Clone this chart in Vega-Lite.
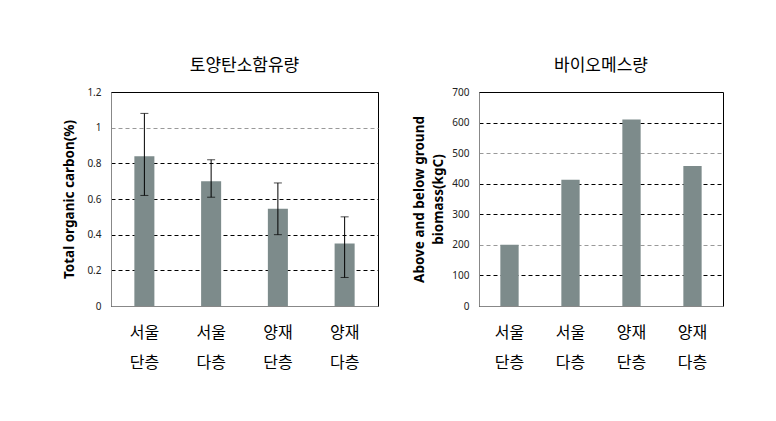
{
  "$schema": "https://vega.github.io/schema/vega-lite/v6.json",
  "background": "white",
  "padding": {"left": 62, "top": 56, "right": 40, "bottom": 20},
  "datasets": {
    "soc": [
      {"site": "서울 단층", "value": 0.84, "low": 0.62, "high": 1.08},
      {"site": "서울 다층", "value": 0.70, "low": 0.61, "high": 0.82},
      {"site": "양재 단층", "value": 0.545, "low": 0.40, "high": 0.69},
      {"site": "양재 다층", "value": 0.35, "low": 0.16, "high": 0.50}
    ],
    "bio": [
      {"site": "서울 단층", "value": 200},
      {"site": "서울 다층", "value": 413},
      {"site": "양재 단층", "value": 610},
      {"site": "양재 다층", "value": 458}
    ]
  },
  "config": {
    "view": {"stroke": "#000", "strokeWidth": 1},
    "title": {"font": "Noto Sans CJK KR", "fontSize": 17, "fontWeight": "normal", "color": "#000", "offset": 12},
    "axis": {
      "labelFont": "Noto Sans", "labelFontSize": 10, "labelColor": "#222",
      "titleFont": "Noto Sans", "titleFontSize": 13.5, "titleFontWeight": "bold", "titleColor": "#000",
      "domainColor": "#888", "ticks": false
    },
    "axisX": {
      "labelFont": "Noto Sans CJK KR", "labelFontSize": 16, "labelAngle": 0, "labelColor": "#000",
      "labelExpr": "split(datum.label, ' ')", "labelLineHeight": 30, "labelPadding": 18, "title": null
    },
    "axisY": {
      "labelPadding": 10, "titlePadding": 10,
      "grid": true, "gridDash": [4, 3]
    }
  },
  "hconcat": [
    {
      "width": 267, "height": 214,
      "title": "토양탄소함유량",
      "data": {"name": "soc"},
      "encoding": {
        "x": {"field": "site", "type": "nominal", "sort": null, "scale": {"paddingInner": 0.7, "paddingOuter": 0.35}}
      },
      "layer": [
        {
          "mark": {"type": "bar", "color": "#7d8b8b"},
          "encoding": {
            "y": {"field": "value", "type": "quantitative", "scale": {"domain": [0, 1.2]},
              "axis": {"values": [0, 0.2, 0.4, 0.6, 0.8, 1, 1.2], "format": "~g", "title": "Total organic carbon(%)",
                "gridColor": {"condition": {"test": "datum.value == 1", "value": "#999"}, "value": "#000"}}}
          }
        },
        {
          "mark": {"type": "rule", "color": "#000", "strokeWidth": 1},
          "encoding": {"y": {"field": "low", "type": "quantitative", "axis": {"values": [0, 0.2, 0.4, 0.6, 0.8, 1, 1.2], "format": "~g", "title": "Total organic carbon(%)",
                "gridColor": {"condition": {"test": "datum.value == 1", "value": "#999"}, "value": "#000"}}}, "y2": {"field": "high"}}
        },
        {
          "mark": {"type": "tick", "color": "#000", "size": 8, "thickness": 1},
          "encoding": {"y": {"field": "low", "type": "quantitative", "axis": {"values": [0, 0.2, 0.4, 0.6, 0.8, 1, 1.2], "format": "~g", "title": "Total organic carbon(%)",
                "gridColor": {"condition": {"test": "datum.value == 1", "value": "#999"}, "value": "#000"}}}}
        },
        {
          "mark": {"type": "tick", "color": "#000", "size": 8, "thickness": 1},
          "encoding": {"y": {"field": "high", "type": "quantitative", "axis": {"values": [0, 0.2, 0.4, 0.6, 0.8, 1, 1.2], "format": "~g", "title": "Total organic carbon(%)",
                "gridColor": {"condition": {"test": "datum.value == 1", "value": "#999"}, "value": "#000"}}}}
        }
      ]
    },
    {
      "width": 244, "height": 214,
      "title": "바이오메스량",
      "data": {"name": "bio"},
      "mark": {"type": "bar", "color": "#7d8b8b"},
      "encoding": {
        "x": {"field": "site", "type": "nominal", "sort": null, "scale": {"paddingInner": 0.7, "paddingOuter": 0.35}},
        "y": {"field": "value", "type": "quantitative", "scale": {"domain": [0, 700]},
          "axis": {"values": [0, 100, 200, 300, 400, 500, 600, 700], "title": ["Above and below ground", "biomass(kgC)"], "titleLineHeight": 19, "titlePadding": 6,
            "gridColor": {"condition": {"test": "datum.value == 200 || datum.value == 500", "value": "#999"}, "value": "#000"}}}
      }
    }
  ],
  "spacing": 33
}
